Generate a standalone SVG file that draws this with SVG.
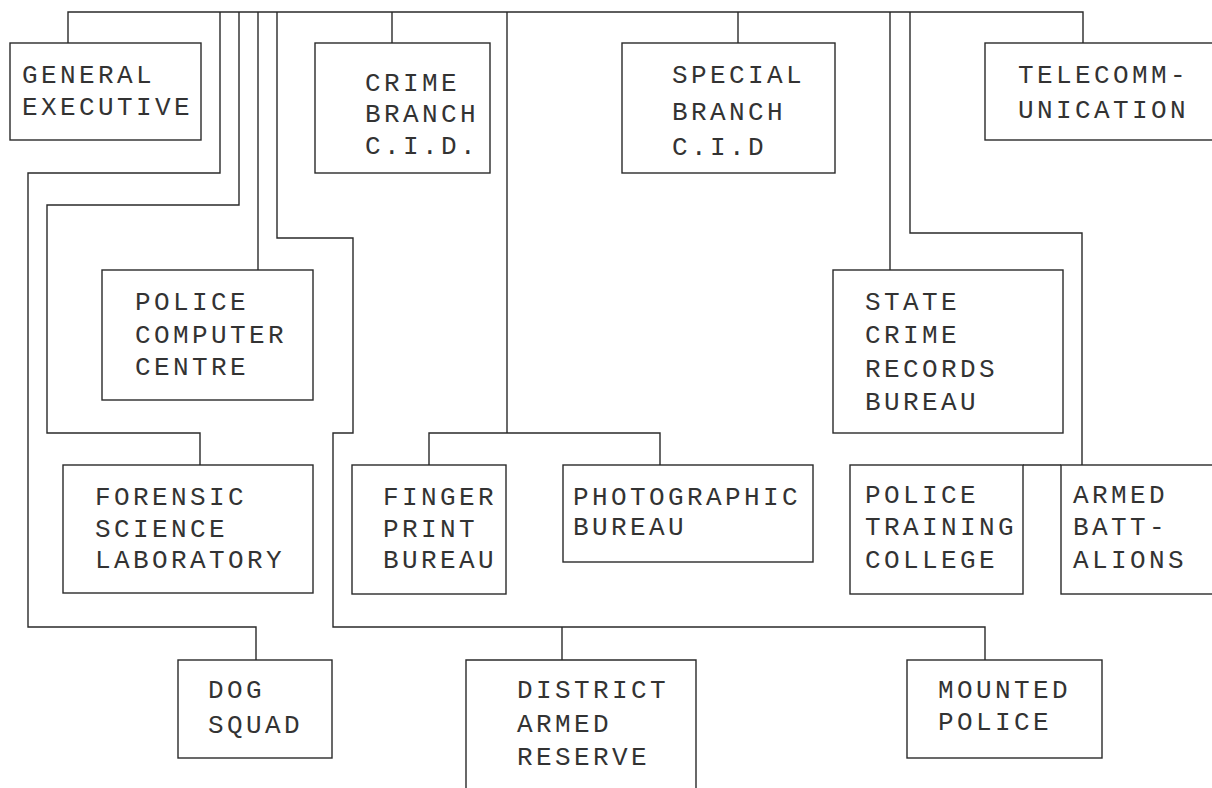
<svg xmlns="http://www.w3.org/2000/svg" width="1212" height="788" viewBox="0 0 1212 788">
<style>
.bg{fill:#ffffff}
.ln{fill:none;stroke:#2a2a2a;stroke-width:1.4;stroke-linejoin:miter}
.bx{fill:none;stroke:#2a2a2a;stroke-width:1.4}
.t{font-family:"Liberation Mono","DejaVu Sans Mono",monospace;font-size:26px;letter-spacing:3.4px;fill:#333333}
</style>
<rect class="bg" x="0" y="0" width="1212" height="788"/>
<g id="connectors">
<path class="ln" d="M68,43 V12 H1083 V43"/>
<path class="ln" d="M220,12 V173 H28 V627 H256 V660"/>
<path class="ln" d="M239,12 V205 H47 V433 H200 V465"/>
<path class="ln" d="M258,12 V270"/>
<path class="ln" d="M277,12 V238 H353 V433 H333 V627 H985 V660"/>
<path class="ln" d="M562,627 V660"/>
<path class="ln" d="M392,12 V43"/>
<path class="ln" d="M507,12 V433"/>
<path class="ln" d="M429,465 V433 H660 V465"/>
<path class="ln" d="M738,12 V43"/>
<path class="ln" d="M890,12 V270"/>
<path class="ln" d="M910,12 V233 H1082 V465"/>
<path class="ln" d="M1023,465 H1061"/>
</g>
<g id="general-executive">
<rect class="bx" x="10" y="43" width="191" height="97"/>
<text class="t" x="22" y="83">GENERAL</text>
<text class="t" x="22" y="115">EXECUTIVE</text>
</g>
<g id="crime-branch">
<rect class="bx" x="315" y="43" width="175" height="130"/>
<text class="t" x="365" y="91">CRIME</text>
<text class="t" x="365" y="122">BRANCH</text>
<text class="t" x="365" y="154">C.I.D.</text>
</g>
<g id="special-branch">
<rect class="bx" x="622" y="43" width="213" height="130"/>
<text class="t" x="672" y="83">SPECIAL</text>
<text class="t" x="672" y="120">BRANCH</text>
<text class="t" x="672" y="155">C.I.D</text>
</g>
<g id="telecommunication">
<rect class="bx" x="985" y="43" width="250" height="97"/>
<text class="t" x="1018" y="83">TELECOMM-</text>
<text class="t" x="1018" y="118">UNICATION</text>
</g>
<g id="police-computer-centre">
<rect class="bx" x="102" y="270" width="211" height="130"/>
<text class="t" x="135" y="310">POLICE</text>
<text class="t" x="135" y="343">COMPUTER</text>
<text class="t" x="135" y="375">CENTRE</text>
</g>
<g id="state-crime-records-bureau">
<rect class="bx" x="833" y="270" width="230" height="163"/>
<text class="t" x="865" y="310">STATE</text>
<text class="t" x="865" y="343">CRIME</text>
<text class="t" x="865" y="377">RECORDS</text>
<text class="t" x="865" y="410">BUREAU</text>
</g>
<g id="forensic-science-laboratory">
<rect class="bx" x="63" y="465" width="250" height="128"/>
<text class="t" x="95" y="505">FORENSIC</text>
<text class="t" x="95" y="537">SCIENCE</text>
<text class="t" x="95" y="568">LABORATORY</text>
</g>
<g id="finger-print-bureau">
<rect class="bx" x="352" y="465" width="154" height="129"/>
<text class="t" x="383" y="505">FINGER</text>
<text class="t" x="383" y="537">PRINT</text>
<text class="t" x="383" y="568">BUREAU</text>
</g>
<g id="photographic-bureau">
<rect class="bx" x="563" y="465" width="250" height="97"/>
<text class="t" x="573" y="505">PHOTOGRAPHIC</text>
<text class="t" x="573" y="535">BUREAU</text>
</g>
<g id="police-training-college">
<rect class="bx" x="850" y="465" width="173" height="129"/>
<text class="t" x="865" y="503">POLICE</text>
<text class="t" x="865" y="535">TRAINING</text>
<text class="t" x="865" y="568">COLLEGE</text>
</g>
<g id="armed-battalions">
<rect class="bx" x="1061" y="465" width="175" height="129"/>
<text class="t" x="1073" y="503">ARMED</text>
<text class="t" x="1073" y="535">BATT-</text>
<text class="t" x="1073" y="568">ALIONS</text>
</g>
<g id="dog-squad">
<rect class="bx" x="178" y="660" width="154" height="98"/>
<text class="t" x="208" y="698">DOG</text>
<text class="t" x="208" y="733">SQUAD</text>
</g>
<g id="district-armed-reserve">
<path class="bx" d="M466,800 V660 H696 V800"/>
<text class="t" x="517" y="698">DISTRICT</text>
<text class="t" x="517" y="732">ARMED</text>
<text class="t" x="517" y="765">RESERVE</text>
</g>
<g id="mounted-police">
<rect class="bx" x="907" y="660" width="195" height="98"/>
<text class="t" x="938" y="698">MOUNTED</text>
<text class="t" x="938" y="730">POLICE</text>
</g>
</svg>
